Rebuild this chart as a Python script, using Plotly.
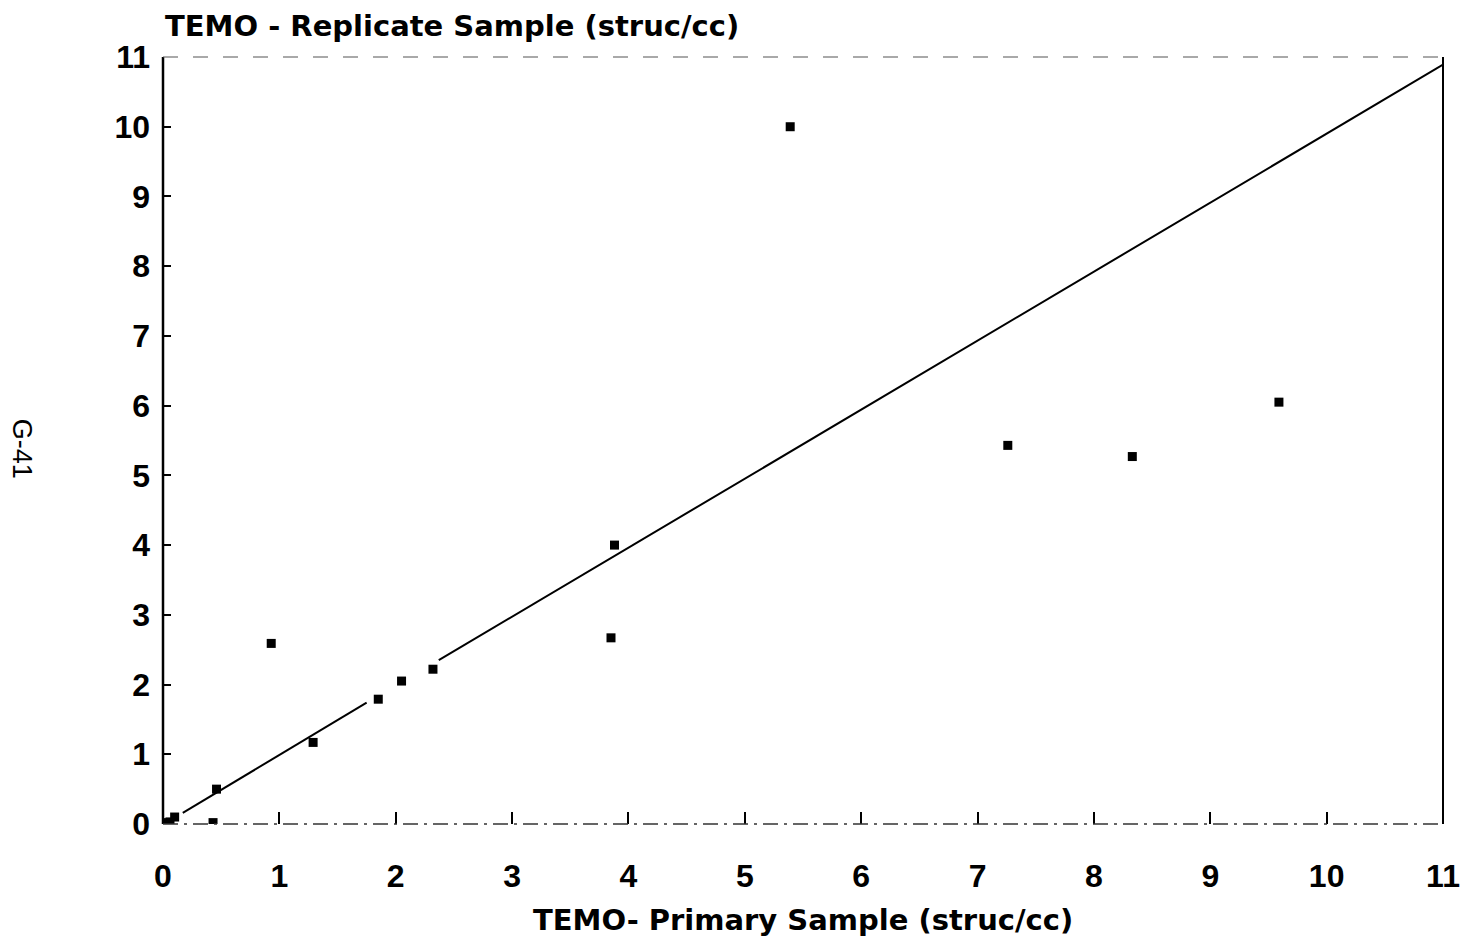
import plotly.graph_objects as go

# Replicate vs primary TEMO sample concentrations (struc/cc)
primary = [0.0, 0.03, 0.06, 0.10, 0.43, 0.46, 0.93, 1.29, 1.85, 2.05, 2.32,
           3.85, 3.88, 5.39, 7.26, 8.33, 9.59]
replicate = [0.0, 0.02, 0.03, 0.10, 0.02, 0.50, 2.59, 1.17, 1.79, 2.05, 2.22,
             2.67, 4.00, 10.0, 5.43, 5.27, 6.05]

# Reference line (drawn in two pieces)
line_x = [0.17, 1.75, None, 2.37, 11.0]
line_y = [0.16, 1.74, None, 2.35, 10.89]

tick_vals = list(range(0, 12))
tick_text = [str(v) for v in tick_vals]

FONT = "Liberation Sans"

fig = go.Figure()
fig.add_trace(go.Scatter(
    x=line_x, y=line_y, mode="lines",
    line=dict(color="black", width=2), connectgaps=False,
    hoverinfo="skip", showlegend=False,
))
fig.add_trace(go.Scatter(
    x=primary, y=replicate, mode="markers",
    marker=dict(symbol="square", size=9, color="black"),
    showlegend=False,
))

fig.update_layout(
    width=1466, height=941,
    margin=dict(l=163, r=23, t=57, b=117, autoexpand=False),
    paper_bgcolor="white", plot_bgcolor="white",
    font=dict(family=FONT, color="black"),
    xaxis=dict(
        range=[0, 11], tickvals=tick_vals, ticktext=tick_text,
        showgrid=False, zeroline=False, showline=False, automargin=False,
        ticks="inside", ticklen=12, tickwidth=2, tickcolor="black",
        tickfont=dict(size=32, family=FONT, weight="bold"),
        ticklabelstandoff=30,
    ),
    yaxis=dict(
        range=[0, 11], tickvals=tick_vals, ticktext=tick_text,
        showgrid=False, zeroline=False, showline=False, automargin=False,
        ticks="inside", ticklen=8, tickwidth=1.5, tickcolor="black",
        tickfont=dict(size=32, family=FONT, weight="bold"),
        ticklabelstandoff=12,
    ),
    shapes=[
        # left axis
        dict(type="line", xref="paper", yref="paper", x0=0, x1=0, y0=0, y1=1,
             line=dict(color="black", width=2.5)),
        # bottom axis
        dict(type="line", xref="paper", yref="paper", x0=0, x1=1, y0=0, y1=0,
             line=dict(color="#333333", width=1.5, dash="longdashdot")),
        # right border
        dict(type="line", xref="paper", yref="paper", x0=1, x1=1, y0=0, y1=1,
             line=dict(color="black", width=2)),
        # top border
        dict(type="line", xref="paper", yref="paper", x0=0, x1=1, y0=1, y1=1,
             line=dict(color="#555555", width=1.2, dash="longdash")),
    ],
    annotations=[
        dict(text="TEMO - Replicate Sample (struc/cc)", xref="paper", yref="paper",
             x=0, y=1, xanchor="left", yanchor="bottom", yshift=12, showarrow=False,
             font=dict(size=29, family="DejaVu Sans", weight="bold")),
        dict(text="TEMO- Primary Sample (struc/cc)", xref="paper", yref="paper",
             x=0.5, y=0, xanchor="center", yanchor="middle", yshift=-96,
             showarrow=False,
             font=dict(size=29, family="DejaVu Sans", weight="bold")),
        dict(text="G-41", xref="paper", yref="paper", x=-0.110, y=0.489,
             xanchor="center", yanchor="middle", textangle=90, showarrow=False,
             font=dict(size=27, family=FONT)),
    ],
)

fig.write_html("out.html")
